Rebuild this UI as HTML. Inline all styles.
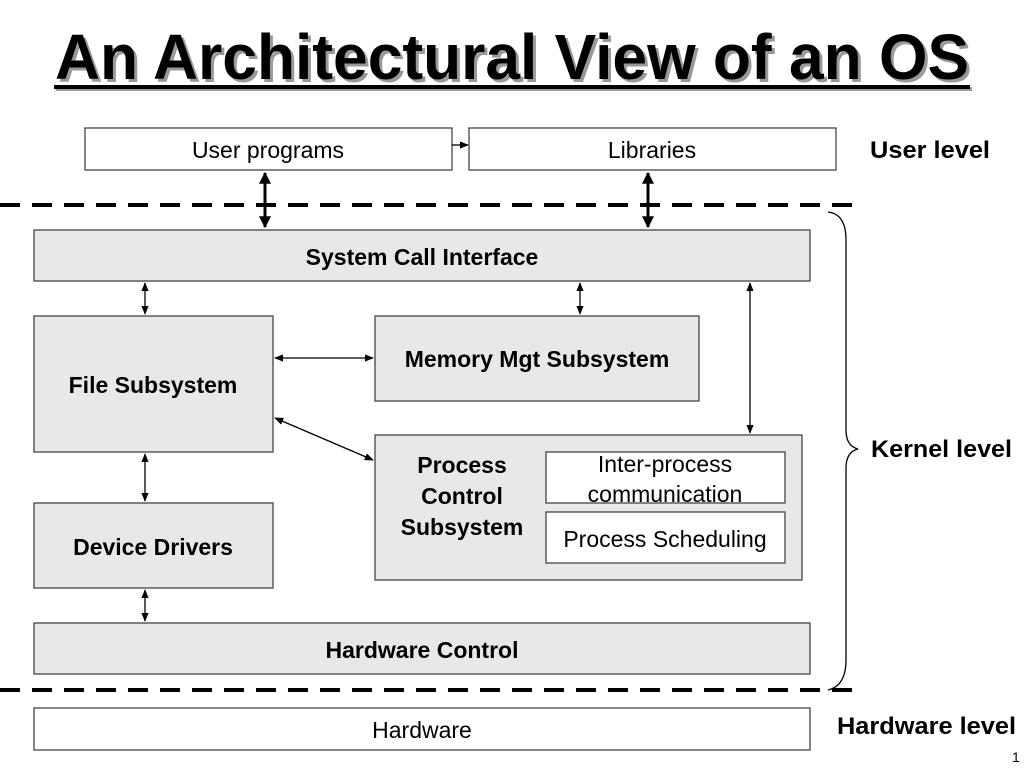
<!DOCTYPE html>
<html><head><meta charset="utf-8"><style>
html,body{margin:0;padding:0;background:#fff;}
svg{display:block;font-family:"Liberation Sans",Arial,sans-serif;}
</style></head><body>
<svg width="1024" height="768" viewBox="0 0 1024 768" xmlns="http://www.w3.org/2000/svg">
<defs>
<marker id="a" viewBox="0 0 10 10" refX="9" refY="5" markerWidth="7" markerHeight="7" orient="auto-start-reverse"><path d="M0,1 L10,5 L0,9 z" fill="#000"/></marker>
<marker id="b" viewBox="0 0 10 10" refX="9" refY="5" markerWidth="4" markerHeight="4" orient="auto-start-reverse"><path d="M0,0 L10,5 L0,10 z" fill="#000"/></marker>
</defs>
<g font-weight="bold" font-size="64">
<text x="58" y="82" fill="#999" textLength="914" lengthAdjust="spacingAndGlyphs">An Architectural View of an OS</text>
<text x="55" y="79" fill="#000" textLength="914" lengthAdjust="spacingAndGlyphs">An Architectural View of an OS</text>
</g>
<rect x="56" y="87" width="916" height="4" fill="#999"/>
<rect x="54" y="85" width="916" height="4" fill="#000"/>

<g stroke="#444" stroke-width="1.3">
<rect x="85" y="128" width="367" height="42" fill="#fff"/>
<rect x="469" y="128" width="367" height="42" fill="#fff"/>
<rect x="34" y="230" width="776" height="51" fill="#e8e8e8"/>
<rect x="34" y="316" width="239" height="136" fill="#e8e8e8"/>
<rect x="375" y="316" width="324" height="85" fill="#e8e8e8"/>
<rect x="375" y="435" width="427" height="145" fill="#e8e8e8"/>
<rect x="546" y="452" width="239" height="51" fill="#fff"/>
<rect x="546" y="512" width="239" height="51" fill="#fff"/>
<rect x="34" y="503" width="239" height="85" fill="#e8e8e8"/>
<rect x="34" y="623" width="776" height="51" fill="#e8e8e8"/>
<rect x="34" y="708" width="776" height="42" fill="#fff"/>
</g>

<g stroke="#000" stroke-width="4" stroke-dasharray="20 12">
<line x1="0" y1="205" x2="855" y2="205"/>
<line x1="0" y1="690" x2="855" y2="690"/>
</g>

<g stroke="#000" stroke-width="3" marker-start="url(#b)" marker-end="url(#b)">
<line x1="265" y1="173" x2="265" y2="227"/>
<line x1="648" y1="173" x2="648" y2="227"/>
</g>
<g stroke="#000" stroke-width="1.3" fill="none">
<line x1="452" y1="145" x2="468" y2="145" marker-end="url(#a)"/>
<line x1="145" y1="283" x2="145" y2="314" marker-start="url(#a)" marker-end="url(#a)"/>
<line x1="580" y1="283" x2="580" y2="314" marker-start="url(#a)" marker-end="url(#a)"/>
<line x1="750" y1="283" x2="750" y2="433" marker-start="url(#a)" marker-end="url(#a)"/>
<line x1="275" y1="358" x2="373" y2="358" marker-start="url(#a)" marker-end="url(#a)"/>
<line x1="275" y1="418" x2="373" y2="460" marker-start="url(#a)" marker-end="url(#a)"/>
<line x1="145" y1="454" x2="145" y2="501" marker-start="url(#a)" marker-end="url(#a)"/>
<line x1="145" y1="590" x2="145" y2="621" marker-start="url(#a)" marker-end="url(#a)"/>
<path d="M828,212 Q846,214 846,240 L846,430 Q846,446 858,449 Q846,452 846,468 L846,660 Q846,686 828,690"/>
</g>

<g font-size="23" text-anchor="middle" fill="#000">
<text x="268" y="158">User programs</text>
<text x="652" y="158">Libraries</text>
<text x="665" y="472">Inter-process</text>
<text x="665" y="502">communication</text>
<text x="665" y="547">Process Scheduling</text>
<text x="422" y="738">Hardware</text>
</g>
<g font-size="23" font-weight="bold" text-anchor="middle" fill="#000">
<text x="422" y="265">System Call Interface</text>
<text x="153" y="393">File Subsystem</text>
<text x="537" y="367">Memory Mgt Subsystem</text>
<text x="462" y="473">Process</text>
<text x="462" y="504">Control</text>
<text x="462" y="535">Subsystem</text>
<text x="153" y="555">Device Drivers</text>
<text x="422" y="658">Hardware Control</text>
</g>
<g font-size="24" font-weight="bold" fill="#000">
<text x="870" y="158" textLength="120" lengthAdjust="spacingAndGlyphs">User level</text>
<text x="871" y="457" textLength="141" lengthAdjust="spacingAndGlyphs">Kernel level</text>
<text x="837" y="734" textLength="179" lengthAdjust="spacingAndGlyphs">Hardware level</text>
</g>
<text x="1012" y="762" font-size="14">1</text>
</svg>
</body></html>
